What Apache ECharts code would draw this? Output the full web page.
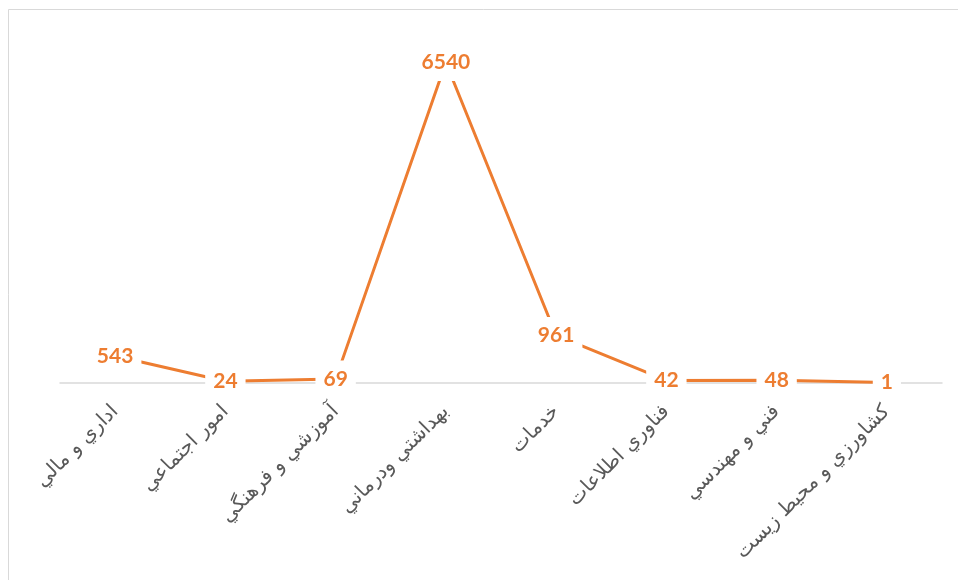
<!DOCTYPE html>
<html>
<head>
<meta charset="utf-8">
<script src="https://cdn.jsdelivr.net/npm/echarts@6/dist/echarts.min.js"></script>
<style>
html,body{margin:0;padding:0;background:#fff;}
#chart{width:958px;height:580px;}
</style>
</head>
<body>
<div id="chart"></div>
<script>
var categories = ['اداري و مالي', 'امور اجتماعي', 'آموزشي و فرهنگي', 'بهداشتي ودرماني', 'خدمات', 'فناوري اطلاعات', 'فني و مهندسي', 'كشاورزي و محيط زيست'];
var values = [543, 24, 69, 6540, 961, 42, 48, 1];

var chart = echarts.init(document.getElementById('chart'));
chart.setOption({
  animation: false,
  backgroundColor: '#ffffff',
  graphic: [
    { type: 'line', shape: { x1: 8.5, y1: 9.5, x2: 958, y2: 9.5 }, style: { stroke: '#d9d9d9', lineWidth: 1 } },
    { type: 'line', shape: { x1: 8.5, y1: 9.5, x2: 8.5, y2: 580 }, style: { stroke: '#d9d9d9', lineWidth: 1 } }
  ],
  grid: { left: 60, right: 16, top: 40, bottom: 197.5, containLabel: false },
  xAxis: {
    type: 'category',
    data: categories,
    boundaryGap: true,
    axisLine: { show: true, lineStyle: { color: '#d9d9d9', width: 1.5 } },
    axisTick: { show: false },
    axisLabel: {
      rotate: 45,
      margin: 26,
      interval: 0,
      color: '#595959',
      fontSize: 20,
      fontFamily: 'DejaVu Sans'
    }
  },
  yAxis: {
    type: 'value',
    min: 0,
    max: 7000,
    show: false,
    splitLine: { show: false }
  },
  series: [{
    type: 'line',
    data: values,
    symbol: 'none',
    lineStyle: { color: '#ED7D31', width: 3 },
    z: 2
  }, {
    type: 'scatter',
    data: values,
    symbolSize: 2,
    itemStyle: { color: 'rgba(255,255,255,0)', opacity: 1 },
    emphasis: { disabled: true },
    z: 3,
    label: {
      show: true,
      position: 'inside',
      color: '#ED7D31',
      fontWeight: 'bold',
      fontSize: 21,
      fontFamily: 'Lato',
      backgroundColor: '#ffffff',
      padding: [8, 8]
    }
  }]
});
</script>
</body>
</html>
